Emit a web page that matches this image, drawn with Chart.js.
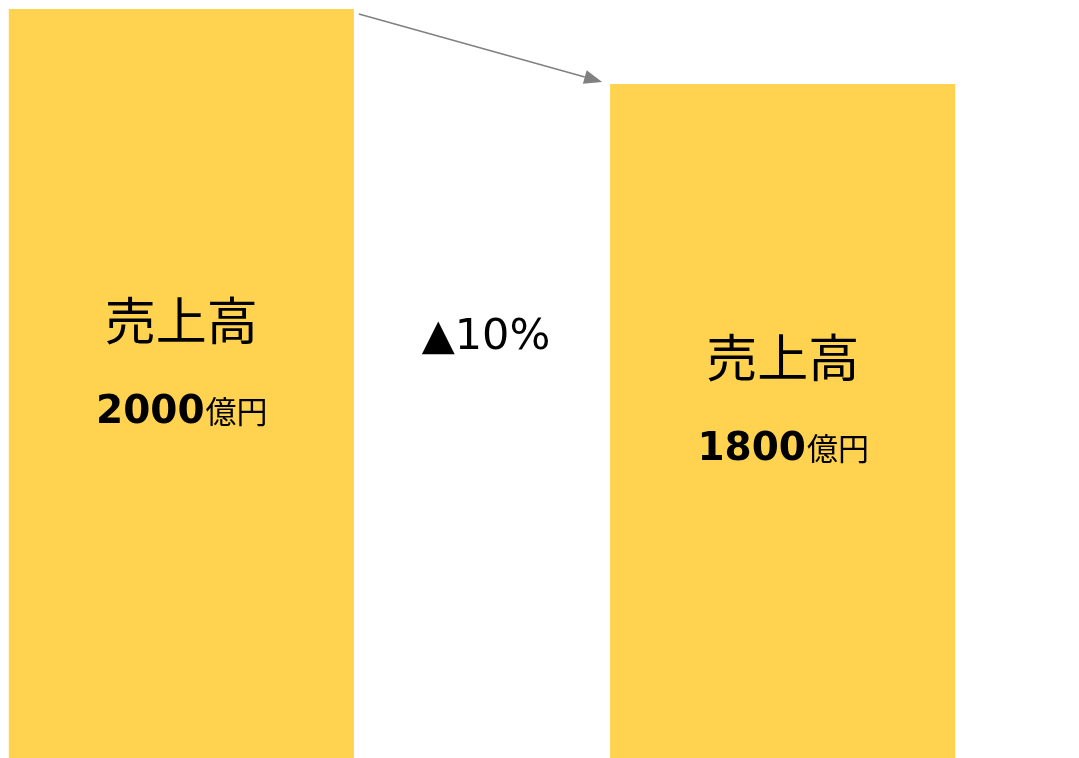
<!DOCTYPE html>
<html lang="ja">
<head>
<meta charset="utf-8">
<title>売上高</title>
<script src="https://cdn.jsdelivr.net/npm/chart.js@4/dist/chart.umd.min.js"></script>
<style>
  html, body { margin: 0; padding: 0; background: #ffffff; }
  #salesChart { display: block; }
</style>
</head>
<body>
<canvas id="salesChart" width="1079" height="758"></canvas>
<script>
// === DATA ===
const periods = ["前期", "", "当期"];
const sales = [2000, null, 1800];
const barTitle = "売上高";
const unitLabel = "億円";
const changeLabel = "▲10%";

const BAR_COLOR = "#FFD34F";
const ARROW_COLOR = "#808080";
const JP_FONT = '"Noto Sans CJK JP", "Noto Sans", sans-serif';
const NUM_FONT = '"DejaVu Sans", Verdana, sans-serif';

// Labels drawn in the middle of each bar, plus the change note between them
const barLabels = {
    id: "barLabels",
    afterDatasetsDraw(chart) {
        const ctx = chart.ctx;
        const meta = chart.getDatasetMeta(0);
        ctx.save();
        ctx.fillStyle = "#000000";
        ctx.textBaseline = "middle";

        meta.data.forEach((bar, i) => {
            if (sales[i] == null) return;
            const mid = (bar.y + bar.base) / 2;

            ctx.textAlign = "center";
            ctx.font = `51px ${JP_FONT}`;
            ctx.fillText(barTitle, bar.x, mid - 63);

            // amount in bold + unit in a smaller regular face
            const num = String(sales[i]);
            ctx.font = `bold 39px ${NUM_FONT}`;
            const numW = ctx.measureText(num).width;
            ctx.font = `31px ${JP_FONT}`;
            const unitW = ctx.measureText(unitLabel).width;
            const left = bar.x - (numW + unitW) / 2;
            const baseY = mid + 39;

            ctx.textAlign = "left";
            ctx.textBaseline = "alphabetic";
            ctx.font = `bold 39px ${NUM_FONT}`;
            ctx.fillText(num, left, baseY);
            ctx.font = `31px ${JP_FONT}`;
            ctx.fillText(unitLabel, left + numW + 1, baseY);
            ctx.textBaseline = "middle";
        });

        // change note between the bars
        const a = meta.data[0];
        const b = meta.data[2];
        const cx = (a.x + b.x) / 2 + 4;
        ctx.textAlign = "center";
        ctx.font = `43px ${NUM_FONT}`;
        ctx.fillText(changeLabel, cx, 338);

        // arrow from the top of the first bar to the top of the second
        const x1 = a.x + a.width / 2 + 5;
        const y1 = a.y + 5;
        const x2 = b.x - b.width / 2 - 8;
        const y2 = b.y - 2;
        const ang = Math.atan2(y2 - y1, x2 - x1);
        const headLen = 18;
        const headHalf = 7;
        const bx = x2 - headLen * Math.cos(ang);
        const by = y2 - headLen * Math.sin(ang);

        ctx.strokeStyle = ARROW_COLOR;
        ctx.lineWidth = 1.5;
        ctx.beginPath();
        ctx.moveTo(x1, y1);
        ctx.lineTo(bx, by);
        ctx.stroke();

        ctx.fillStyle = ARROW_COLOR;
        ctx.beginPath();
        ctx.moveTo(x2, y2);
        ctx.lineTo(bx + headHalf * Math.sin(ang), by - headHalf * Math.cos(ang));
        ctx.lineTo(bx - headHalf * Math.sin(ang), by + headHalf * Math.cos(ang));
        ctx.closePath();
        ctx.fill();

        ctx.restore();
    },
};

new Chart(document.getElementById("salesChart").getContext("2d"), {
    type: "bar",
    data: {
        labels: periods,
        datasets: [
            {
                data: sales,
                backgroundColor: BAR_COLOR,
                borderWidth: 0,
                categoryPercentage: 1,
                barPercentage: 1.1478,
                clip: false,
            },
        ],
    },
    options: {
        responsive: false,
        animation: false,
        layout: {
            padding: { top: 9, bottom: 0, left: 31, right: 146 },
        },
        plugins: {
            legend: { display: false },
            tooltip: { enabled: false },
        },
        scales: {
            x: { display: false },
            y: { display: false, min: 0, max: 2000 },
        },
    },
    plugins: [barLabels],
});
</script>
</body>
</html>
